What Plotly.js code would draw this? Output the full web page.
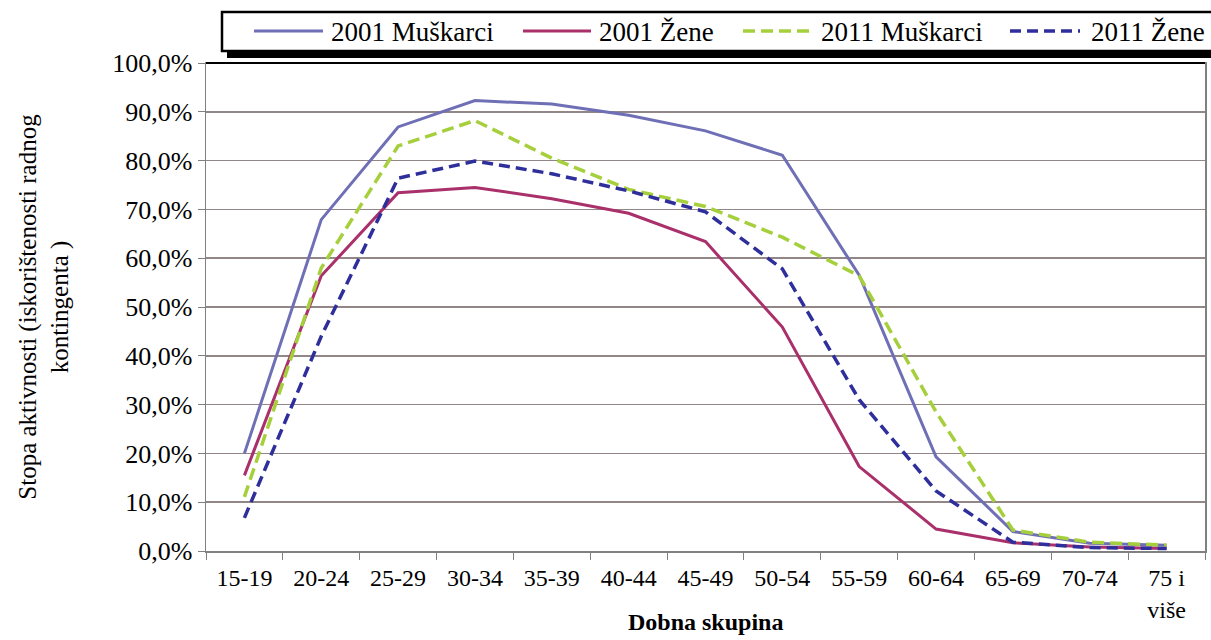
<!DOCTYPE html>
<html>
<head>
<meta charset="utf-8">
<script src="https://cdn.plot.ly/plotly-3.0.1.min.js"></script>
<style>html,body{margin:0;padding:0;background:#fff;}#chart{width:1211px;height:640px;}</style>
</head>
<body>
<div id="chart"></div>
<script>
const categories = ["15-19","20-24","25-29","30-34","35-39","40-44","45-49","50-54","55-59","60-64","65-69","70-74","75 i<br>više"];
const muskarci2001 = [20.0, 67.9, 86.9, 92.3, 91.6, 89.3, 86.1, 81.1, 56.5, 19.3, 4.0, 1.6, 1.2];
const zene2001     = [15.5, 56.4, 73.4, 74.5, 72.2, 69.2, 63.4, 45.9, 17.3, 4.5, 1.7, 0.8, 0.5];
const muskarci2011 = [11.1, 58.0, 83.0, 88.2, 80.5, 74.1, 70.6, 64.3, 56.4, 28.5, 4.3, 1.8, 1.2];
const zene2011     = [6.8, 44.0, 76.4, 79.9, 77.3, 73.8, 69.5, 57.8, 31.0, 12.3, 1.8, 0.7, 0.5];
const seriesNames = ["2001 Muškarci", "2001 Žene", "2011 Muškarci", "2011 Žene"];
const yTicks = [0,10,20,30,40,50,60,70,80,90,100];
const yTickLabels = ["0,0%","10,0%","20,0%","30,0%","40,0%","50,0%","60,0%","70,0%","80,0%","90,0%","100,0%"];
const xTitle = "Dobna skupina";
const yTitle = "Stopa aktivnosti (iskorištenosti radnog<br>kontingenta )";

const font = '"Liberation Serif", "Times New Roman", serif';
const styles = [
  {color: "#6f6fb6", width: 3, dash: "solid"},
  {color: "#a9306a", width: 3, dash: "solid"},
  {color: "#a6cf3c", width: 3.5, dash: "12px,6px"},
  {color: "#2f2f9c", width: 3.5, dash: "11px,6px"}
];
const seriesValues = [muskarci2001, zene2001, muskarci2011, zene2011];
const traces = seriesValues.map((vals, i) => ({
  x: categories, y: vals, name: seriesNames[i], mode: "lines",
  line: styles[i], showlegend: false
}));

// pixel -> paper helpers (plot area: x 206..1205, y 63..551)
const L = 206, R = 6, T = 63, B = 89, W = 1211, H = 640;
const pw = W - L - R, ph = H - T - B;
const px = X => (X - L) / pw;
const py = Y => (H - B - Y) / ph;

// custom legend layout (pixel positions)
const legendSample = [[254, 323], [523, 591], [743, 813], [1010, 1080]];
const legendTextX = [329, 597, 819, 1089];
const legendY = 31;

const shapes = [
  {type: "rect", xref: "paper", yref: "paper", x0: px(227), x1: px(1222), y0: py(58), y1: py(18), fillcolor: "#000", line: {width: 0}, layer: "above"},
  {type: "rect", xref: "paper", yref: "paper", x0: px(222), x1: px(1220), y0: py(51), y1: py(12), fillcolor: "#fff", line: {color: "#000", width: 2.5}, layer: "above"},
  {type: "line", xref: "paper", yref: "paper", x0: 0, x1: 1, y0: 1, y1: 1, line: {color: "#000", width: 2}, layer: "above"}
];
const annotations = [];
seriesNames.forEach((name, i) => {
  shapes.push({type: "line", xref: "paper", yref: "paper",
    x0: px(legendSample[i][0]), x1: px(legendSample[i][1]), y0: py(legendY), y1: py(legendY),
    line: {color: styles[i].color, width: styles[i].width, dash: styles[i].dash}, layer: "above"});
  annotations.push({xref: "paper", yref: "paper", x: px(legendTextX[i]), y: py(legendY + 1),
    xanchor: "left", yanchor: "middle", showarrow: false, text: name,
    font: {family: font, size: 27, color: "#000"}});
});
annotations.push({xref: "paper", yref: "paper", x: 0.5, y: py(622), xanchor: "center", yanchor: "middle",
  showarrow: false, text: "<b>" + xTitle + "</b>", font: {family: font, size: 24, color: "#000"}});

const layout = {
  width: W, height: H,
  margin: {l: L, r: R, t: T, b: B},
  paper_bgcolor: "#fff", plot_bgcolor: "#fff",
  font: {family: font, size: 24, color: "#000"},
  showlegend: false,
  xaxis: {
    type: "category", range: [-0.5, 12.5], tickson: "boundaries", ticks: "outside", ticklen: 7, tickcolor: "#808080",
    showline: true, linecolor: "#808080", linewidth: 1.5, mirror: true,
    showgrid: false, tickfont: {family: font, size: 24, color: "#000"}, ticklabelstandoff: 5,
    fixedrange: true
  },
  yaxis: {
    range: [0, 100], tickvals: yTicks, ticktext: yTickLabels,
    ticks: "outside", ticklen: 7, tickcolor: "#808080",
    showline: true, linecolor: "#808080", linewidth: 1.5, mirror: true,
    showgrid: true, gridcolor: "#938686", gridwidth: 1.7, zeroline: false,
    tickfont: {family: font, size: 26, color: "#000"},
    title: {text: yTitle, font: {family: font, size: 25, color: "#000"}, standoff: 36},
    fixedrange: true
  },
  shapes: shapes,
  annotations: annotations
};

Plotly.newPlot("chart", traces, layout, {displayModeBar: false, staticPlot: true});
</script>
</body>
</html>
